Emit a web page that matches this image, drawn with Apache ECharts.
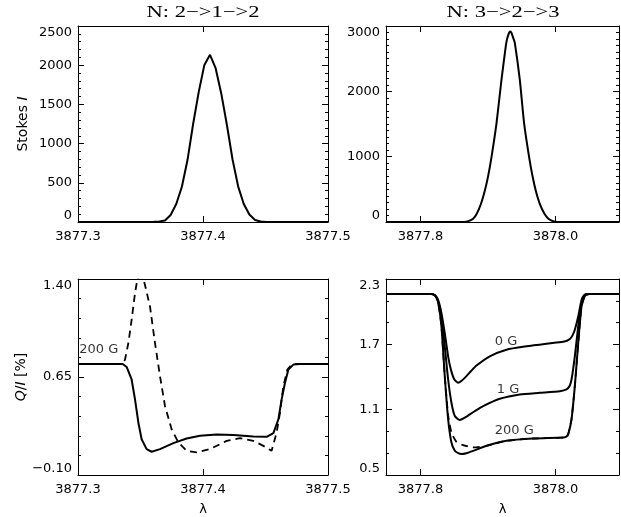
<!DOCTYPE html>
<html><head><meta charset="utf-8">
<script src="https://cdn.jsdelivr.net/npm/echarts@6/dist/echarts.min.js"></script>
<style>html,body{margin:0;padding:0;background:#fff}#c{width:621px;height:517px}</style>
</head><body><div id="c"></div>
<script>
// ---- Data ----
// Top-left: Stokes I, N: 2->1->2
const tlWave = [3877.300,3877.350,3877.3606,3877.3651,3877.3696,3877.3741,3877.3786,3877.3831,3877.3876,3877.3921,3877.3966,3877.4011,3877.4056,3877.4101,3877.4146,3877.4191,3877.4236,3877.4281,3877.4326,3877.4371,3877.4416,3877.4461,3877.4506,3877.500];
const tlI    = [0,0,2,8,20,90,230,450,790,1250,1660,2004,2132,1962,1640,1240,800,455,230,95,25,6,0,0];
// Top-right: Stokes I, N: 3->2->3
const trWave = [3877.749,3877.862,3877.868,3877.873,3877.878,3877.883,3877.889,3877.8953,3877.900,3877.9052,3877.9126,3877.920,3877.9264,3877.928,3877.930,3877.9315,3877.933,3877.9345,3877.936,3877.938,3877.9397,3877.9471,3877.9535,3877.9609,3877.966,3877.9708,3877.977,3877.9841,3877.990,3877.9965,3878.003,3878.094];
const trI    = [0,0,5,20,50,119,260,479,690,994,1510,2179,2694,2790,2860,2900,2915,2900,2860,2800,2746,2179,1510,994,700,479,270,119,45,12,0,0];
// Bottom-left: Q/I [%], solid (reference) and dashed (200 G)
const blWave   = [3877.300,3877.3357,3877.3389,3877.3429,3877.3456,3877.3483,3877.3509,3877.3549,3877.3589,3877.3656,3877.3763,3877.3869,3877.3976,3877.4109,3877.4243,3877.4403,3877.4509,3877.4563,3877.4603,3877.4629,3877.4656,3877.4683,3877.4723,3877.4776,3877.500];
const blQ      = [0.75,0.75,0.727,0.631,0.479,0.301,0.174,0.098,0.078,0.098,0.144,0.179,0.200,0.210,0.207,0.194,0.192,0.220,0.326,0.479,0.606,0.707,0.745,0.75,0.75];
const blWaveD  = [3877.300,3877.3357,3877.3376,3877.3403,3877.3429,3877.3456,3877.3475,3877.3500,3877.3536,3877.3576,3877.3616,3877.3656,3877.3696,3877.3749,3877.3803,3877.3869,3877.3949,3877.4056,3877.4189,3877.4296,3877.4403,3877.4483,3877.4549,3877.4589,3877.4616,3877.4643,3877.4675,3877.4709,3877.4750,3877.500];
const blQD     = [0.75,0.75,0.783,0.91,1.088,1.291,1.40,1.48,1.354,1.189,0.91,0.656,0.428,0.25,0.149,0.085,0.073,0.098,0.161,0.182,0.161,0.123,0.085,0.225,0.377,0.58,0.707,0.745,0.75,0.75];
// Bottom-right: Q/I [%], 0 G, 1 G, 200 G (solid) and 200 G (dashed)
const brWave0 = [3877.749,3877.816,3877.8215,3877.8260,3877.8311,3877.836,3877.841,3877.8450,3877.8500,3877.8558,3877.8610,3877.8681,3877.8750,3877.883,3877.9027,3877.9274,3877.957,3877.9867,3878.0114,3878.0170,3878.0212,3878.0250,3878.0286,3878.0336,3878.0385,3878.0420,3878.0459,3878.094];
const brQ0    = [2.163,2.163,2.150,2.110,1.986,1.803,1.590,1.470,1.380,1.347,1.365,1.408,1.455,1.505,1.590,1.651,1.682,1.706,1.724,1.733,1.749,1.780,1.834,1.956,2.108,2.150,2.163,2.163];
const brWave1 = [3877.749,3877.816,3877.8215,3877.8260,3877.8311,3877.836,3877.841,3877.8459,3877.8509,3877.8583,3877.8650,3877.8731,3877.8828,3877.8928,3877.9175,3877.9472,3877.9768,3878.0064,3878.0163,3878.0210,3878.0237,3878.0286,3878.0336,3878.0385,3878.0435,3878.050,3878.094];
const brQ1    = [2.163,2.163,2.150,2.100,1.956,1.682,1.377,1.164,1.042,1.005,1.025,1.057,1.095,1.133,1.200,1.240,1.255,1.270,1.286,1.320,1.377,1.590,1.864,2.078,2.154,2.163,2.163];
const brWave2 = [3877.749,3877.816,3877.8215,3877.8260,3877.8311,3877.836,3877.841,3877.8459,3877.8509,3877.8560,3877.8607,3877.8680,3877.878,3877.8978,3877.9274,3877.9669,3878.0114,3878.0160,3878.0188,3878.0237,3878.0286,3878.0336,3878.0385,3878.0435,3878.050,3878.094];
const brQ2    = [2.163,2.163,2.150,2.090,1.864,1.408,1.012,0.798,0.722,0.700,0.692,0.700,0.722,0.768,0.814,0.835,0.844,0.852,0.874,1.012,1.316,1.712,2.047,2.145,2.163,2.163];
const brWaveD = [3877.749,3877.816,3877.8215,3877.8260,3877.8311,3877.836,3877.841,3877.8459,3877.8533,3877.8632,3877.878,3877.8978,3877.9274,3877.9669,3878.0114,3878.0160,3878.0188,3878.0237,3878.0286,3878.0336,3878.0385,3878.0435,3878.050,3878.094];
const brQD    = [2.163,2.163,2.150,2.090,1.864,1.408,1.05,0.89,0.804,0.774,0.753,0.768,0.814,0.835,0.844,0.852,0.874,1.012,1.316,1.712,2.047,2.145,2.163,2.163];
// Tick labels
const leftXTicks  = [3877.3, 3877.4, 3877.5];
const rightXTicks = [3877.8, 3878.0];
// Annotations
const blNotes = [{text:'200 G', x:3877.301, y:0.86}];
const brNotes = [{text:'0 G', x:3877.910, y:1.724},{text:'1 G', x:3877.913, y:1.285},{text:'200 G', x:3877.910, y:0.911}];
const titles = ['N: 2\u2212>1\u2212>2', 'N: 3\u2212>2\u2212>3'];

const zip = (a,b)=>a.map((v,i)=>[v,b[i]]);
const FONT = 'DejaVu Sans';
const BLACK = '#000';

const grids = [
  {left:78, top:26, width:250, height:196},
  {left:386, top:26, width:233, height:196},
  {left:78, top:279, width:250, height:197},
  {left:386, top:279, width:233, height:197}
];

function xAxisCfg(gi, top){
  const left = (gi % 2 === 0);
  const a = {
    type:'value', gridIndex:gi, position: top ? 'top' : 'bottom',
    min: left ? 3877.3 : 3877.749, max: left ? 3877.5 : 3878.094,
    axisLine:{show:true, onZero:false, lineStyle:{color:BLACK, width:1}},
    axisTick:{show:true, inside:true, length:6, lineStyle:{color:BLACK}},
    splitLine:{show:false},
    axisLabel:{show:!top, color:BLACK, fontFamily:FONT, fontSize:13, margin:8,
      formatter: v => Number(v).toFixed(1)}
  };
  if (left) { a.interval = 0.1; }
  else {
    a.axisTick.customValues = rightXTicks;
    a.axisLabel.customValues = rightXTicks;
  }
  if (!top && gi >= 2) {
    a.name = 'λ'; a.nameLocation = 'middle'; a.nameGap = 28;
    a.nameTextStyle = {color:BLACK, fontFamily:FONT, fontSize:13};
  }
  return a;
}
const yRanges = [
  {min:0, max:2500, interval:500, minor:5, fmt: v => String(Math.round(v))},
  {min:0, max:3000, interval:1000, minor:10, fmt: v => String(Math.round(v))},
  {min:-0.1, max:1.4, interval:0.75, minor:5, fmt: v => (v < 0 ? '\u2212' : '') + Math.abs(v).toFixed(2)},
  {min:0.5, max:2.3, interval:0.6, minor:3, fmt: v => Number(v).toFixed(1)}
];
function yAxisCfg(gi, right){
  const r = yRanges[gi];
  const a = {
    type:'value', gridIndex:gi, position: right ? 'right' : 'left',
    min:r.min, max:r.max, interval:r.interval,
    axisLine:{show:true, onZero:false, lineStyle:{color:BLACK, width:1}},
    axisTick:{show:true, inside:true, length:6, lineStyle:{color:BLACK}},
    minorTick:{show:true, splitNumber:r.minor, length:3, lineStyle:{color:BLACK}},
    splitLine:{show:false}, minorSplitLine:{show:false},
    axisLabel:{show:!right, color:BLACK, fontFamily:FONT, fontSize:13, margin:6,
      formatter:r.fmt, verticalAlignMinLabel:'bottom', verticalAlignMaxLabel:'top'}
  };
  const rich = {n:{fontFamily:FONT, fontSize:14, color:BLACK}, i:{fontFamily:FONT, fontSize:14, fontStyle:'italic', color:BLACK}};
  if (!right && gi === 0) {
    a.name = '{n|Stokes }{i|I}'; a.nameLocation = 'middle'; a.nameGap = 48;
    a.nameTextStyle = {color:BLACK, fontFamily:FONT, fontSize:14, rich};
  }
  if (!right && gi === 2) {
    a.name = '{i|Q}{n|/}{i|I}{n| [%]}'; a.nameLocation = 'middle'; a.nameGap = 48;
    a.nameTextStyle = {color:BLACK, fontFamily:FONT, fontSize:14, rich};
  }
  return a;
}

const xAxes = [0,1,2,3].map(g=>xAxisCfg(g,false)).concat([0,1,2,3].map(g=>xAxisCfg(g,true)));
const yAxes = [0,1,2,3].map(g=>yAxisCfg(g,false)).concat([0,1,2,3].map(g=>yAxisCfg(g,true)));

function line(gi, data, dashed, smooth){
  return {type:'line', xAxisIndex:gi, yAxisIndex:gi, data, showSymbol:false, symbol:'none',
    clip:true, animation:false, silent:true, smooth: smooth || false,
    lineStyle:{color:BLACK, width: dashed ? 1.8 : 2, type: dashed ? [7,5] : 'solid'}};
}
function notes(gi, arr){
  return {type:'scatter', xAxisIndex:gi, yAxisIndex:gi, symbolSize:0, animation:false, silent:true,
    data: arr.map(n=>({value:[n.x, n.y], label:{formatter:n.text}})),
    label:{show:true, position:'right', distance:0, color:BLACK, fontFamily:FONT, fontSize:13, verticalAlign:'middle'}};
}

const series = [
  line(0, zip(tlWave, tlI)),
  line(1, zip(trWave, trI), false, 0.2),
  line(2, zip(blWaveD, blQD), true),
  line(2, zip(blWave, blQ)),
  line(3, zip(brWaveD, brQD), true, 0.2),
  line(3, zip(brWave0, brQ0), false, 0.2),
  line(3, zip(brWave1, brQ1), false, 0.2),
  line(3, zip(brWave2, brQ2), false, 0.2),
  notes(2, blNotes),
  notes(3, brNotes)
];

const chart = echarts.init(document.getElementById('c'), null, {renderer:'canvas'});
chart.setOption({
  backgroundColor:'#fff',
  animation:false,
  grid: grids,
  xAxis: xAxes,
  yAxis: yAxes,
  series,
  graphic: [
    {type:'text', x:203, y:13, scaleX:1.33, style:{text:titles[0], font:'17px "Liberation Serif"', align:'center', verticalAlign:'middle', textAlign:'center', textVerticalAlign:'middle', fill:BLACK}},
    {type:'text', x:503, y:13, scaleX:1.33, style:{text:titles[1], font:'17px "Liberation Serif"', align:'center', verticalAlign:'middle', textAlign:'center', textVerticalAlign:'middle', fill:BLACK}}
  ]
});
</script></body></html>
